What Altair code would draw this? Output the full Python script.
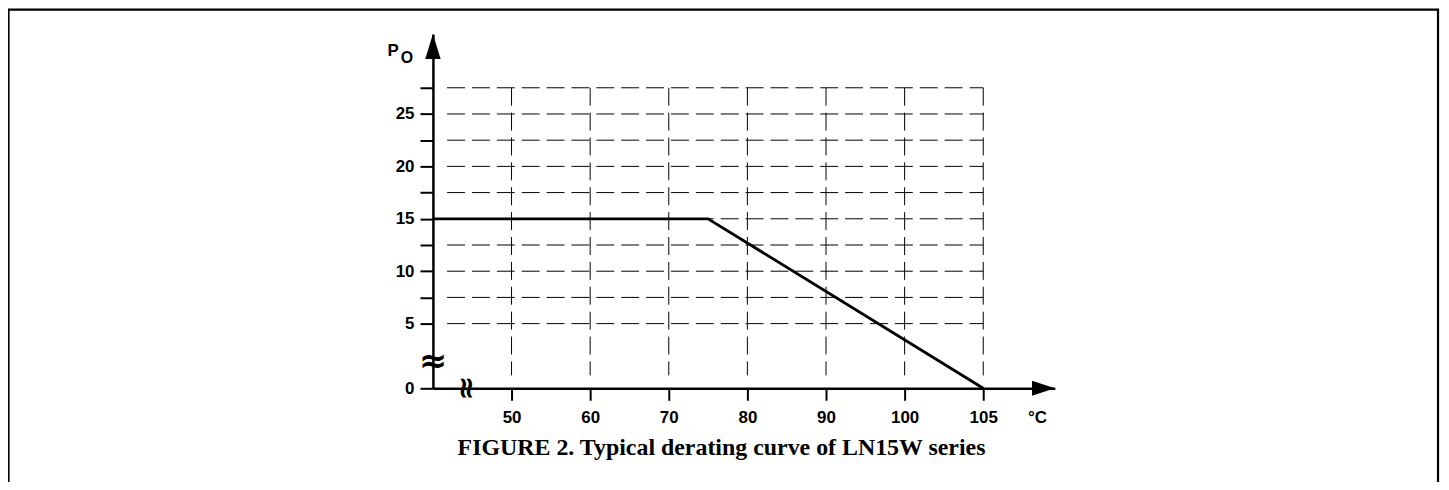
import altair as alt
import pandas as pd

# ---- data ----
derate_temp = [40, 75, 105]
derate_power = [15, 15, 0]
x_tick_values = [50, 60, 70, 80, 90, 100, 105]
y_tick_values = [0, 5, 7.5, 10, 12.5, 15, 17.5, 20, 22.5, 25, 27.5]
h_grid_values = [5, 7.5, 10, 12.5, 15, 17.5, 20, 22.5, 25, 27.5]
v_grid_values = [50, 60, 70, 80, 90, 100, 105]

W, H = 625, 356
x_scale = alt.Scale(domain=[40, 100, 105, 109.56], range=[0, 474, 553, W], nice=False, zero=False)
y_scale = alt.Scale(domain=[0, 5, 27.5, 32.63], range=[H, 291, 54, 0], nice=False, zero=False)

LAB = dict(labelFont="Liberation Sans", labelFontSize=17, labelFontWeight="bold", labelColor="black",
           domainColor="black", domainWidth=2.5, tickColor="black", tickWidth=2, grid=False)

x_axis = alt.Axis(values=x_tick_values, format="d", tickSize=12, labelPadding=9, title="°C",
                  titleFont="Liberation Sans", titleFontSize=17, titleFontWeight="bold", titleColor="black",
                  titleX=607, titleY=21, titleAnchor="middle", titleBaseline="top", **LAB)
y_axis = alt.Axis(values=y_tick_values, tickSize=13, labelPadding=6,
                  labelExpr="datum.value % 5 === 0 ? datum.label : ''", title="", **LAB)


def X(field="t"):
    return alt.X(f"{field}:Q", scale=x_scale, axis=x_axis)


def Y(field="p"):
    return alt.Y(f"{field}:Q", scale=y_scale, axis=y_axis)


line_df = pd.DataFrame({"t": derate_temp, "p": derate_power})
hgrid_df = pd.DataFrame({"p": h_grid_values, "t": [41.8] * len(h_grid_values), "t2": [105] * len(h_grid_values)})
vgrid_df = pd.DataFrame({"t": v_grid_values, "p": [27.5] * len(v_grid_values), "p2": [1] * len(v_grid_values)})

frame = alt.Chart(pd.DataFrame({"a": [0]})).mark_rect(fill=None, stroke="black", strokeWidth=2.2).encode(
    x=alt.value(-426.5), x2=alt.value(1010), y=alt.value(-24.5), y2=alt.value(520))

hgrid = alt.Chart(hgrid_df).mark_rule(color="black", strokeWidth=1, strokeDash=[18, 7]).encode(
    x=X(), x2="t2:Q", y=Y())
vgrid = alt.Chart(vgrid_df).mark_rule(color="black", strokeWidth=1, strokeDash=[18, 7]).encode(
    x=X(), y=Y(), y2="p2:Q")

curve = alt.Chart(line_df).mark_line(color="black", strokeWidth=2.8).encode(x=X(), y=Y())

y_arrow = alt.Chart(pd.DataFrame({"t": [40], "p": [32.63]})).mark_point(
    shape="M0,0L0.31,1L-0.31,1Z", size=2500, filled=True, fill="black", strokeWidth=0, opacity=1).encode(
    x=X(), y=Y())
x_arrow = alt.Chart(pd.DataFrame({"t": [109.56], "p": [0]})).mark_point(
    shape="M0,0L-1,-0.33L-1,0.33Z", size=2116, filled=True, fill="black", strokeWidth=0, opacity=1).encode(
    x=X(), y=Y())

y_break = alt.Chart(pd.DataFrame({"t": [40], "p": [2.0]})).mark_text(
    text="≈", font="DejaVu Sans", fontSize=34, fontWeight="bold", color="black", baseline="middle", align="center").encode(
    x=X(), y=Y())
x_break = alt.Chart(pd.DataFrame({"t": [44.2], "p": [0]})).mark_text(
    text="≈", font="DejaVu Sans", fontSize=30, fontWeight="bold", color="black", baseline="middle", align="center",
    angle=90).encode(x=X(), y=Y())

p_label = alt.Chart(pd.DataFrame({"a": [0]})).mark_text(
    text="P", font="Liberation Sans", fontSize=17, fontWeight="bold", color="black", align="center",
    baseline="alphabetic").encode(x=alt.value(-40), y=alt.value(22))
o_label = alt.Chart(pd.DataFrame({"a": [0]})).mark_text(
    text="O", font="Liberation Sans", fontSize=16, fontWeight="bold", color="black", align="center",
    baseline="alphabetic").encode(x=alt.value(-26), y=alt.value(29))

title = alt.Chart(pd.DataFrame({"a": [0]})).mark_text(
    text="FIGURE 2. Typical derating curve of LN15W series", font="Liberation Serif", fontSize=24,
    fontWeight="bold", color="black", align="center", baseline="alphabetic").encode(
    x=alt.value(290), y=alt.value(423))

chart = alt.layer(frame, hgrid, vgrid, curve, y_arrow, x_arrow, y_break, x_break, p_label, o_label, title).properties(
    width=W, height=H,
    autosize=alt.AutoSizeParams(type="none"),
    padding={"left": 427, "top": 25, "right": 388, "bottom": 93},
).configure_view(strokeWidth=0)

chart.save("out.html", embed_options={"renderer": "svg", "actions": False})
